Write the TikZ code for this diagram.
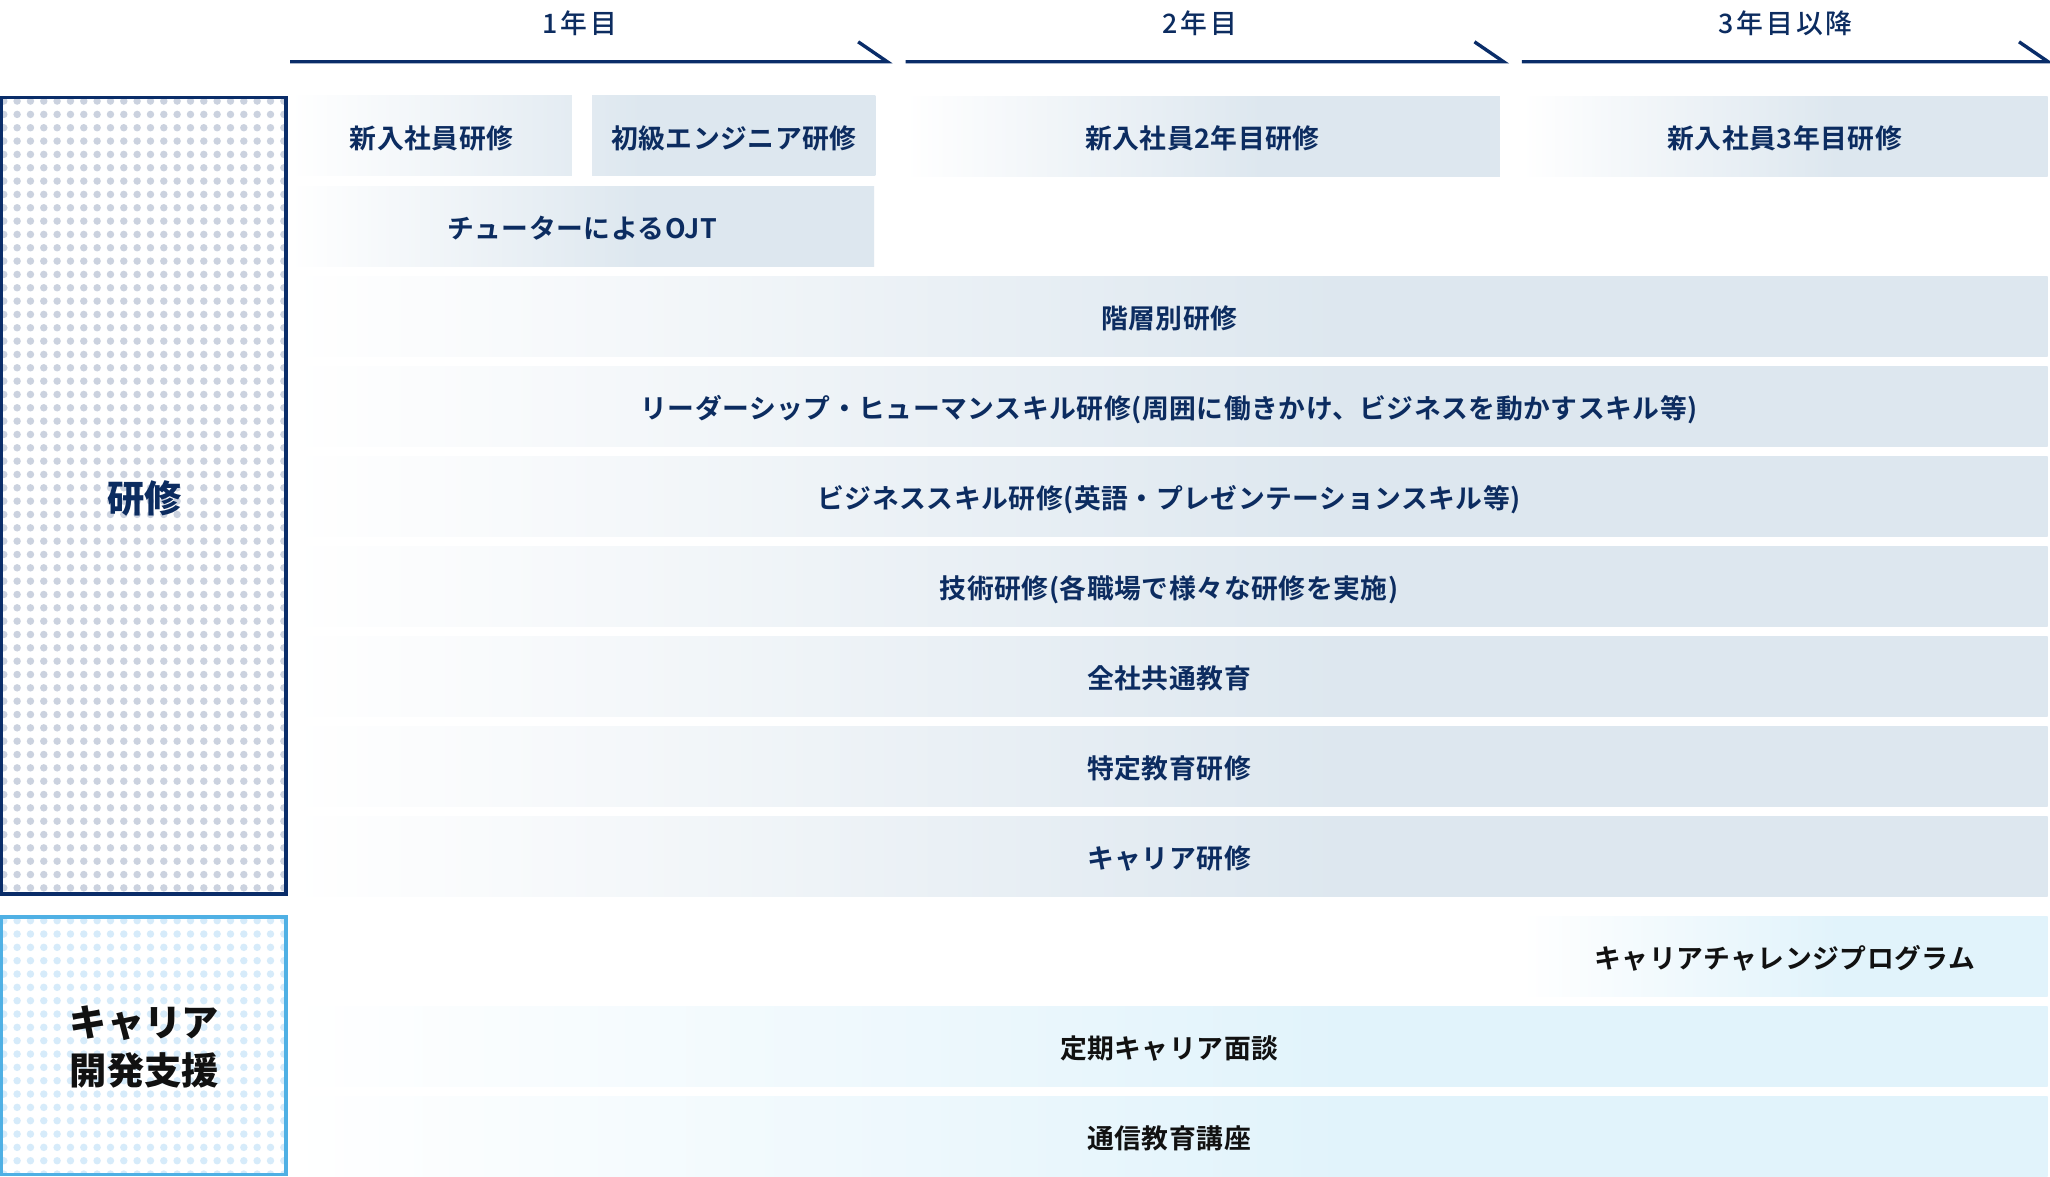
\documentclass[tikz,border=0pt]{standalone}
\usepackage{fontspec}
\setmainfont{Noto Sans CJK JP}
\newfontfamily\hdrfont{Noto Sans CJK JP Medium}[LetterSpace=11]
\newfontfamily\rowfont{Noto Sans CJK JP Bold}[LetterSpace=2]
\definecolor{navy}{RGB}{10,45,105}
\definecolor{navytext}{RGB}{12,44,96}
\definecolor{dotc}{RGB}{203,210,223}
\definecolor{cardot}{RGB}{214,235,250}
\definecolor{carborder}{RGB}{79,176,228}
\definecolor{rowc}{RGB}{221,231,239}
\definecolor{carc}{RGB}{225,243,251}
\definecolor{cartext}{RGB}{17,17,17}
\pgfdeclarehorizontalshading{rowfade}{100bp}{color(0bp)=(white); color(25bp)=(white); color(55bp)=(rowc); color(100bp)=(rowc)}
\pgfdeclarehorizontalshading{carfade}{100bp}{color(0bp)=(white); color(25bp)=(white); color(55bp)=(carc); color(100bp)=(carc)}
\begin{document}
\begin{tikzpicture}[x=1pt,y=-1pt,
  rowtext/.style={inner sep=0pt, anchor=north west, minimum height=61.2pt,
    text height=20pt, text depth=1.5pt,
    font=\rowfont\fontsize{20.5}{24}\selectfont, text=navytext},
  rowbox/.style={rowtext, shade, shading=rowfade},
  carbox/.style={rowtext, shade, shading=carfade, text=cartext},
  hdr/.style={inner sep=0pt, font=\hdrfont\fontsize{20.5}{24}\selectfont, text=navytext},
  timeline/.style={draw=navy, line width=2.6pt, line join=miter, line cap=butt},
  biglabel/.style={inner sep=0pt, align=center, font=\bfseries\fontsize{28.5}{37}\selectfont}
]
\useasboundingbox (0,0) rectangle (1568,899.5);
\fill[white] (0,0) rectangle (1568,899.5);

% ---- timeline arrows
\coordinate (a1s) at (222,47.2);   \coordinate (a1e) at (678.6,47.2);  \coordinate (a1b) at (656.4,32);
\coordinate (a2s) at (692.7,47.2); \coordinate (a2e) at (1150,47.2);   \coordinate (a2b) at (1127.8,32);
\coordinate (a3s) at (1164,47.2);  \coordinate (a3e) at (1566.5,47.2); \coordinate (a3b) at (1544.3,32);
\draw[timeline] (a1s) -- (a1e) -- (a1b);
\draw[timeline] (a2s) -- (a2e) -- (a2b);
\draw[timeline] (a3s) -- (a3e) -- (a3b);
\node[hdr] (h1) at (443.6,17.9) {1年目};
\node[hdr] (h2) at (917.5,17.9) {2年目};
\node[hdr] (h3) at (1365.8,17.9) {3年目以降};

% ---- left category boxes with dot pattern
\begin{scope}
  \clip (1.5,75) rectangle (218.5,683.5);
  \foreach \i in {0,...,21} \foreach \j in {0,...,60}
    \fill[dotc] (2.9+10.2*\i, 77.3+10.2*\j) circle[radius=2.85pt];
\end{scope}
\draw[navy, line width=2.6pt] (1.3,74.7) rectangle (218.7,683.8);
\node[biglabel, text=navytext] (kenshu) at (110.5,381) {研修};

\begin{scope}
  \clip (1.5,701.5) rectangle (218.5,898);
  \foreach \i in {0,...,21} \foreach \j in {0,...,19}
    \fill[cardot] (2.9+10.2*\i, 704.2+10.2*\j) circle[radius=2.85pt];
\end{scope}
\draw[carborder, line width=2.6pt] (1.3,701.3) rectangle (218.7,898.2);
\node[biglabel, text=cartext] (career) at (110.5,801) {キャリア\\開発支援};

% ---- row 1 (first-year boxes share one gradient)
\shade[shading=rowfade] (222,73.4) rectangle (669.6,134.6);
\fill[white] (437.7,70) rectangle (452.8,138);
\node[rowtext, minimum width=215.7pt] (r1a) at (222,73.4) {新入社員研修};
\node[rowtext, minimum width=216.8pt] (r1b) at (452.8,73.4) {初級エンジニア研修};
\node[rowbox, minimum width=455pt] (r1c) at (692,73.4) {新入社員2年目研修};
\node[rowbox, minimum width=402pt] (r1d) at (1164,73.4) {新入社員3年目研修};

% ---- row 2
\node[rowbox, minimum width=446.3pt] (r2) at (222,142.3) {チューターによるOJT};

% ---- full-width training rows
\node[rowbox, minimum width=1344pt] (r3) at (222,211.2) {階層別研修};
\node[rowbox, minimum width=1344pt] (r4) at (222,280.0) {リーダーシップ・ヒューマンスキル研修(周囲に働きかけ、ビジネスを動かすスキル等)};
\node[rowbox, minimum width=1344pt] (r5) at (222,348.9) {ビジネススキル研修(英語・プレゼンテーションスキル等)};
\node[rowbox, minimum width=1344pt] (r6) at (222,417.8) {技術研修(各職場で様々な研修を実施)};
\node[rowbox, minimum width=1344pt] (r7) at (222,486.7) {全社共通教育};
\node[rowbox, minimum width=1344pt] (r8) at (222,555.5) {特定教育研修};
\node[rowbox, minimum width=1344pt] (r9) at (222,624.4) {キャリア研修};

% ---- career rows
\node[carbox, minimum width=402pt] (c1) at (1164,700.6) {キャリアチャレンジプログラム};
\node[carbox, minimum width=1344pt] (c2) at (222,769.5) {定期キャリア面談};
\node[carbox, minimum width=1344pt] (c3) at (222,838.3) {通信教育講座};
\end{tikzpicture}
\end{document}
